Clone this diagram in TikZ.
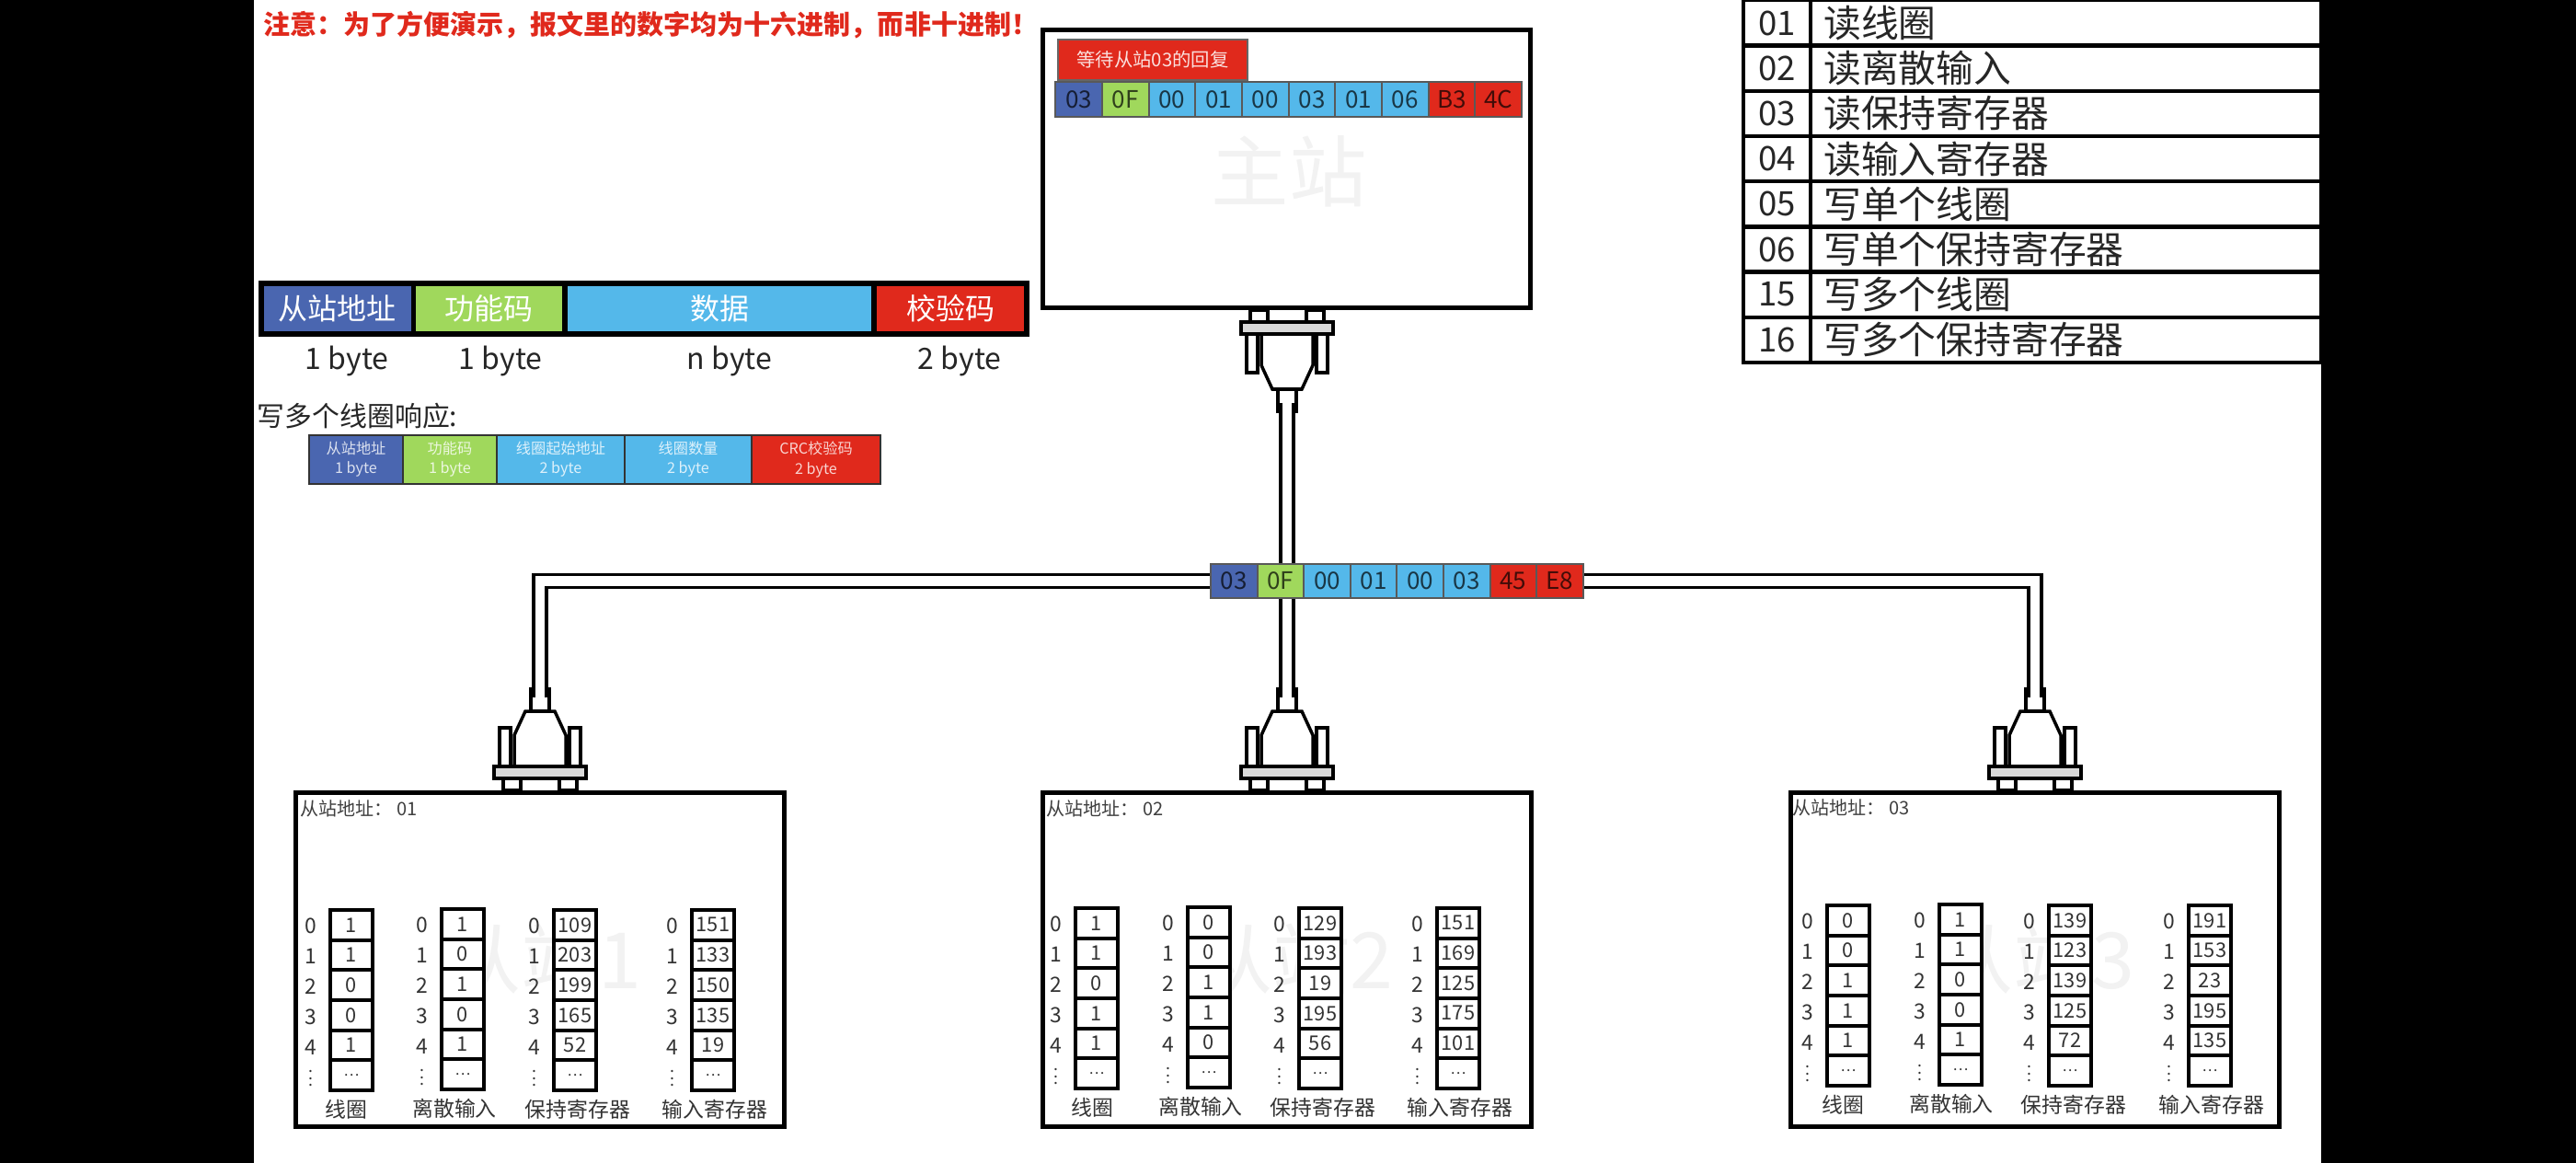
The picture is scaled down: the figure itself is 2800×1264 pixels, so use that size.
\documentclass[tikz,border=0pt]{standalone}
\usepackage{fontspec}
\setmainfont{Noto Sans CJK SC}
\definecolor{addrblue}{HTML}{4A66B0}
\definecolor{funcgreen}{HTML}{A0D85C}
\definecolor{datablue}{HTML}{54B8EA}
\definecolor{crcred}{HTML}{E0291C}
\newcommand{\fs}[1]{\fontsize{#1}{#1}\selectfont}
\newcommand{\tinydots}{\fs{5}\vbox{\baselineskip2pt\lineskiplimit0pt\hbox{.}\hbox{.}\hbox{.}}}
\pgfdeclarelayer{front}
\pgfsetlayers{main,front}
\tikzset{
  box/.style={rectangle,draw,fill=white,line width=.5mm,inner sep=0pt},
  framecell/.style={rectangle,draw,line width=.55mm,minimum height=5.5mm,inner sep=0pt,text=white,font=\fs{9.1}},
  sizelabel/.style={inner sep=0pt,font=\fs{9.1},text=black!85},
  smallcell/.style={rectangle,draw=black!80,line width=.2mm,minimum height=5.3mm,inner sep=0pt,align=center,text=white,text opacity=.8,font=\fontsize{4.6}{6}\selectfont},
  bytecell/.style={rectangle,draw=black!65,line width=.2mm,minimum height=3.7mm,inner sep=0pt,text=black,text opacity=.7,font=\fs{7.4}},
  regcell/.style={rectangle,draw,fill=white,line width=.42mm,minimum width=4.55mm,minimum height=3.267mm,inner sep=0pt,text=black!80,font=\fs{6.2}},
  reglabel/.style={inner sep=0pt,text=black!80,font=\fs{6.5}},
  addrlabel/.style={anchor=west,inner sep=0pt,text=black!75,font=\fs{5.7}},
  faint/.style={inner sep=0pt,text=black!5,font=\fs{24}},
  tablecell/.style={rectangle,draw,line width=.42mm,minimum height=4.92mm,inner sep=0pt,text=black!85},
  cable/.style={double=white,double distance=1.05mm,line width=.35mm},
  plug/.pic={
    \draw[line width=.35mm,fill=white] (-40,0) rectangle (-21,13) (21,0) rectangle (40,13);
    \draw[line width=.35mm,fill=white] (-44,26) rectangle (-32,68) (32,26) rectangle (44,68);
    \draw[line width=.35mm,fill=white] (-28,26) -- (-28,60) -- (-16,86) -- (16,86) -- (28,60) -- (28,26) -- cycle;
    \draw[line width=.35mm,fill=white] (-10,86) rectangle (10,110);
    \draw[line width=.3mm] (-10,103) -- (10,103);
    \draw[line width=.45mm,fill=black!15] (-50,13) rectangle (50,26);
    \coordinate (-end) at (0,101);
  }
}
\newcommand{\regcol}[6]{
  \foreach \v [count=\r from 0] in {#4,…} {
    \node[regcell] (#1v\r) at ({#2+25},{#3+18.3+32.67*\r}) {\ifnum\r=5 \fs{4.5}\fi\v};
    \node[reglabel] (#1i\r) at ({#2-19},{#3+19+33.2*\r}) {\ifnum\r<5 \r\else\tinydots\fi};
  }
  \node[reglabel] (#1t) at ({#2+#6},{#3+219}) {#5};
}
\begin{document}
\begin{tikzpicture}[x=0.01cm,y=-0.01cm]
\useasboundingbox (0,0) rectangle (2800,1264);
\fill[black] (0,0) rectangle (2800,1264);
\fill[white] (276,0) rectangle (2523,1264);

\node[anchor=west,inner sep=0pt,text=crcred,font=\fs{8.25}\bfseries] (note) at (286,27) {注意：为了方便演示，报文里的数字均为十六进制，而非十进制！};

\foreach \nm/\xa/\xb/\col/\txt/\sz/\sx in {addr/284/449.5/addrblue/从站地址/1 byte/377,func/449.5/614/funcgreen/功能码/1 byte/544,data/614/950/datablue/数据/n byte/793,crc/950/1116/crcred/校验码/2 byte/1043} {
  \node[framecell,fill=\col,minimum width={(\xb-\xa)*0.1mm}] (\nm) at ({(\xa+\xb)/2},335.5) {\txt};
  \node[sizelabel] (\nm size) at (\sx,393) {\sz};
}

\node[anchor=west,inner sep=0pt,text=black!85,font=\fs{8.5}] (resp) at (279,452) {写多个线圈响应:};
\foreach \nm/\xa/\xb/\col/\txt in {raddr/336/438/addrblue/从站地址\\1 byte,rfunc/438/540/funcgreen/功能码\\1 byte,rstart/540/679/datablue/线圈起始地址\\2 byte,rcount/679/817/datablue/线圈数量\\2 byte,rcrc/817/957/crcred/CRC校验码\\2 byte} {
  \node[smallcell,fill=\col,minimum width={(\xb-\xa)*0.1mm}] (\nm) at ({(\xa+\xb)/2},499.5) {\txt};
}

\foreach \code/\txt [count=\i from 0] in {01/读线圈,02/读离散输入,03/读保持寄存器,04/读输入寄存器,05/写单个线圈,06/写单个保持寄存器,15/写多个线圈,16/写多个保持寄存器} {
  \node[tablecell,minimum width=7.3mm,font=\fs{10.4}] (code\i) at (1931.5,{25+49.2*\i}) {\code};
  \node[tablecell,minimum width=55.5mm,text width=52.6mm,font=\fs{11.6},align=left] (name\i) at (2245.5,{25+49.2*\i}) {\txt};
}

\node[box,minimum width=53mm,minimum height=30.2mm] (master) at (1398.5,183.5) {};
\node[faint] (mastertxt) at (1401,186) {主站};
\node[rectangle,draw=black!60,line width=.15mm,fill=crcred,minimum width=20.6mm,minimum height=4.4mm,inner sep=0pt,text=white,text opacity=.85,font=\fs{5.8}] (wait) at (1253,65) {等待从站03的回复};
\foreach \col/\txt [count=\i from 0] in {addrblue/03,funcgreen/0F,datablue/00,datablue/01,datablue/00,datablue/03,datablue/01,datablue/06,crcred/B3,crcred/4C} {
  \node[bytecell,fill=\col,minimum width=5.07mm] (req\i) at ({1172.5+50.7*\i},108) {\txt};
}

\node[box,minimum width=53.1mm,minimum height=36.3mm] (slaveA) at (587,1043) {};
\node[box,minimum width=53.1mm,minimum height=36.3mm] (slaveB) at (1399,1043) {};
\node[box,minimum width=53.1mm,minimum height=36.3mm] (slaveC) at (2212,1043) {};
\node[faint] (slaveAtxt) at (590,1042) {从站1};
\node[faint] (slaveBtxt) at (1407,1042) {从站2};
\node[faint] (slaveCtxt) at (2212,1042) {从站3};
\node[addrlabel] (addrA) at (326,879) {从站地址： 01};
\node[addrlabel] (addrB) at (1137,879) {从站地址： 02};
\node[addrlabel] (addrC) at (1948,878) {从站地址： 03};

\regcol{ac}{357}{987}{1,1,0,0,1}{线圈}{19}
\regcol{ad}{478}{986}{1,0,1,0,1}{离散输入}{16}
\regcol{ah}{600}{987}{109,203,199,165,52}{保持寄存器}{28}
\regcol{ai}{750}{987}{151,133,150,135,19}{输入寄存器}{27}
\regcol{bc}{1167}{985}{1,1,0,1,1}{线圈}{20}
\regcol{bd}{1289}{984}{0,0,1,1,0}{离散输入}{16}
\regcol{bh}{1410}{985}{129,193,19,195,56}{保持寄存器}{28}
\regcol{bi}{1560}{985}{151,169,125,175,101}{输入寄存器}{27}
\regcol{cc}{1984}{982}{0,0,1,1,1}{线圈}{19}
\regcol{cd}{2106}{981}{1,1,0,0,1}{离散输入}{15}
\regcol{ch}{2225}{982}{139,123,139,125,72}{保持寄存器}{29}
\regcol{ci}{2377}{982}{191,153,23,195,135}{输入寄存器}{27}

\pic (mp) at (1399,337) {plug};
\pic[yscale=-1] (pa) at (587,859) {plug};
\pic[yscale=-1] (pb) at (1399,859) {plug};
\pic[yscale=-1] (pc) at (2212,859) {plug};

\begin{pgfonlayer}{front}
\foreach \col/\txt [count=\i from 0] in {addrblue/03,funcgreen/0F,datablue/00,datablue/01,datablue/00,datablue/03,crcred/45,crcred/E8} {
  \node[bytecell,fill=\col,minimum width=5.06mm] (pkt\i) at ({1341.3+50.6*\i},631.5) {\txt};
}
\end{pgfonlayer}
\draw[cable] (mp-end) -- (pb-end);
\draw[cable] (pkt0.west) -| (pa-end);
\draw[cable] (pkt7.east) -| (pc-end);
\end{tikzpicture}
\end{document}
